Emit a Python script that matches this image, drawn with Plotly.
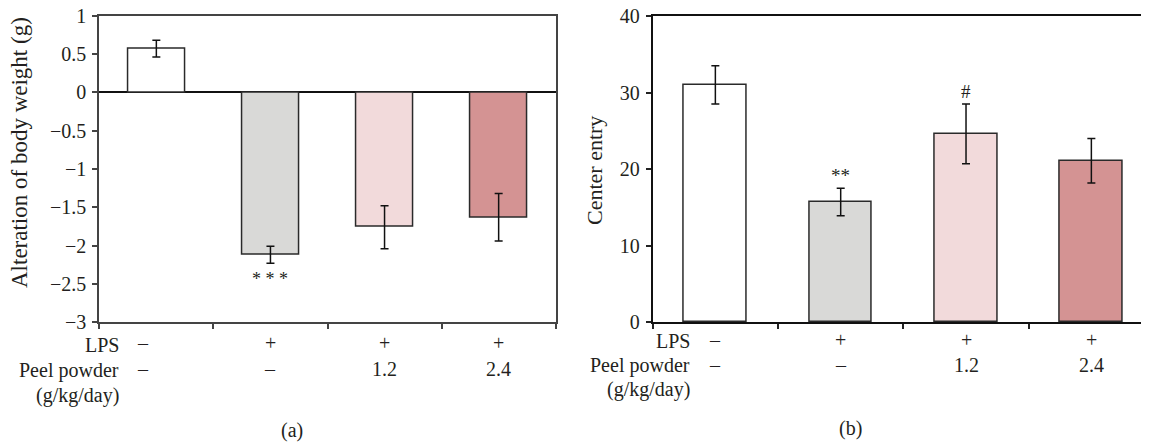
import plotly.graph_objects as go

# ---- data ----
groups = ["Control", "LPS", "LPS + Peel 1.2", "LPS + Peel 2.4"]
weight_change = [0.57, -2.12, -1.76, -1.63]
weight_err = [0.11, 0.11, 0.28, 0.31]
center_entry = [31.0, 15.7, 24.6, 21.1]
center_err = [2.5, 1.8, 3.9, 2.9]
lps_row = ["–", "+", "+", "+"]
peel_row = ["–", "–", "1.2", "2.4"]
sig_a = ["", "* * *", "", ""]
sig_b = ["", "**", "#", ""]
bar_colors = ["#ffffff", "#d9d9d7", "#f2dadb", "#d49393"]
yticks_a = [1, 0.5, 0, -0.5, -1, -1.5, -2, -2.5, -3]
yticklabels_a = ["1", "0.5", "0", "−0.5", "−1", "−1.5", "−2", "−2.5", "−3"]
yticks_b = [0, 10, 20, 30, 40]

# page body has an 8px margin; draw in page coordinates
VW, VH, OFF = 1149, 444, 8
W, H = VW - OFF, VH - OFF
FONT = "Liberation Serif"
TXT = "#231f20"
xs = list(range(len(groups)))

fig = go.Figure()

fig.add_trace(go.Bar(
    x=xs, y=weight_change, width=0.5, xaxis="x", yaxis="y",
    marker=dict(color=bar_colors, line=dict(color="#2a2a2a", width=1.5)),
    error_y=dict(type="data", array=weight_err, visible=True,
                 color="#111", thickness=1.5, width=4),
    showlegend=False,
))
fig.add_trace(go.Bar(
    x=xs, y=center_entry, width=0.5, xaxis="x2", yaxis="y2",
    marker=dict(color=bar_colors, line=dict(color="#2a2a2a", width=1.5)),
    error_y=dict(type="data", array=center_err, visible=True,
                 color="#111", thickness=1.5, width=4),
    showlegend=False,
))


def px(xp):
    return (xp - OFF) / W


def py(yp):
    return 1 - (yp - OFF) / H


# panel geometry (page pixels)
a_left, a_right, a_top, a_bot = 99.3, 555.7, 15.7, 322.2
b_left, b_top, b_bot = 652.7, 16.0, 322.3
b_cat = 125.33
b_xmax = -0.5 + (VW - b_left) / b_cat

tickfont = dict(family=FONT, size=20, color=TXT)

fig.update_layout(
    width=W, height=H,
    margin=dict(l=0, r=0, t=0, b=0, pad=0),
    paper_bgcolor="white", plot_bgcolor="white",
    bargap=0,
    xaxis=dict(domain=[px(a_left), px(a_right)], range=[-0.5, 3.5],
               tickvals=[-0.5, 0.5, 1.5, 2.5, 3.5], ticktext=[""] * 5,
               ticks="outside", ticklen=5, tickwidth=1.5, tickcolor="#444",
               showline=True, linecolor="#444", linewidth=2, mirror=True,
               showgrid=False, zeroline=False, automargin=False),
    yaxis=dict(domain=[py(a_bot), py(a_top)], range=[-3, 1],
               tickvals=yticks_a, ticktext=yticklabels_a, tickfont=tickfont,
               ticks="outside", ticklen=5, tickwidth=1.5, tickcolor="#444",
               showline=True, linecolor="#444", linewidth=2, mirror=True,
               showgrid=False, zeroline=True, zerolinecolor="#111",
               zerolinewidth=1.5, ticklabelstandoff=2, automargin=False,
               ticklabeloverflow="allow"),
    xaxis2=dict(domain=[px(b_left), 1.0], range=[-0.5, b_xmax],
                anchor="y2",
                tickvals=[-0.5, 0.5, 1.5, 2.5], ticktext=[""] * 4,
                ticks="outside", ticklen=5, tickwidth=1.5, tickcolor="#222",
                showline=True, linecolor="#111", linewidth=2, mirror=True,
                showgrid=False, zeroline=False, automargin=False),
    yaxis2=dict(domain=[py(b_bot), py(b_top)], range=[0, 40],
                anchor="x2",
                tickvals=yticks_b, tickfont=tickfont,
                ticks="outside", ticklen=5, tickwidth=1.5, tickcolor="#222",
                showline=True, linecolor="#111", linewidth=2, mirror=False,
                showgrid=False, zeroline=False, ticklabelstandoff=2,
                automargin=False, ticklabeloverflow="allow"),
)

ann = []
lab = dict(family=FONT, size=20, color=TXT)

# y-axis titles
ann.append(dict(text="Alteration of body weight (g)", xref="paper", yref="paper",
                x=px(20), y=py(153), textangle=-90, showarrow=False,
                font=dict(family=FONT, size=23, color=TXT),
                xanchor="center", yanchor="middle"))
ann.append(dict(text="Center entry", xref="paper", yref="paper",
                x=px(594), y=py(171), textangle=-90, showarrow=False,
                font=dict(family=FONT, size=22, color=TXT),
                xanchor="center", yanchor="middle"))

# row labels
rows_a = [("LPS", 345), ("Peel powder", 370), ("(g/kg/day)", 395)]
rows_b = [("LPS", 341), ("Peel powder", 365), ("(g/kg/day)", 389)]
for t, yy in rows_a:
    ann.append(dict(text=t, xref="paper", yref="paper", x=px(121), y=py(yy),
                    xanchor="right", yanchor="middle", showarrow=False, font=lab))
for t, yy in rows_b:
    ann.append(dict(text=t, xref="paper", yref="paper", x=px(692), y=py(yy),
                    xanchor="right", yanchor="middle", showarrow=False, font=lab))

# column values
for i in xs:
    sh = -13 if i == 0 else 0
    ann.append(dict(text=lps_row[i], xref="x", yref="paper", x=i, y=py(343),
                    xshift=sh, showarrow=False, font=lab, yanchor="middle"))
    ann.append(dict(text=peel_row[i], xref="x", yref="paper", x=i, y=py(369),
                    xshift=sh, showarrow=False, font=lab, yanchor="middle"))
    ann.append(dict(text=lps_row[i], xref="x2", yref="paper", x=i, y=py(340),
                    showarrow=False, font=lab, yanchor="middle"))
    ann.append(dict(text=peel_row[i], xref="x2", yref="paper", x=i, y=py(365),
                    showarrow=False, font=lab, yanchor="middle"))

# significance marks
for i in xs:
    if sig_a[i]:
        ann.append(dict(text=sig_a[i], xref="x", yref="y", x=i,
                        y=weight_change[i] - weight_err[i], yshift=-16,
                        showarrow=False, yanchor="middle",
                        font=dict(family=FONT, size=18, color=TXT)))
    if sig_b[i]:
        ann.append(dict(text=sig_b[i], xref="x2", yref="y2", x=i,
                        y=center_entry[i] + center_err[i], yshift=13,
                        showarrow=False, yanchor="middle",
                        font=dict(family=FONT, size=19, color=TXT)))

# panel letters
ann.append(dict(text="(a)", xref="paper", yref="paper", x=px(279), y=py(430),
                showarrow=False, font=lab, yanchor="middle"))
ann.append(dict(text="(b)", xref="paper", yref="paper", x=px(864), y=py(428),
                showarrow=False, font=lab, yanchor="middle"))

fig.update_layout(annotations=ann)
fig.write_html("out.html")
